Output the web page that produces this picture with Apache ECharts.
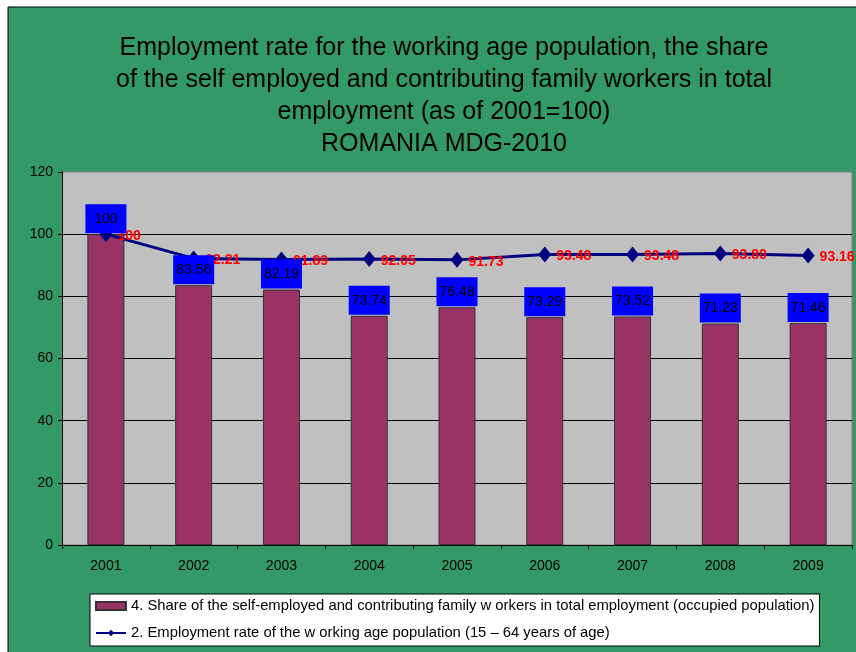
<!DOCTYPE html>
<html><head><meta charset="utf-8">
<script src="https://cdn.jsdelivr.net/npm/echarts@6/dist/echarts.min.js"></script>
<style>html,body{margin:0;padding:0;background:#fff;}#c{width:856px;height:652px;}</style>
</head><body><div id="c"></div>
<script>
var years = ['2001','2002','2003','2004','2005','2006','2007','2008','2009'];
var shareSelfEmployed = [100, 83.56, 82.19, 73.74, 76.48, 73.29, 73.52, 71.23, 71.46];
var employmentRate = [100, 92.21, 91.89, 92.05, 91.73, 93.48, 93.48, 93.80, 93.16];
var yTicks = [0, 20, 40, 60, 80, 100, 120];
var barName = '4. Share of the self-employed and contributing family w orkers in total employment (occupied population)';
var lineName = '2. Employment rate of the w orking age population (15 \u2013 64 years of age)';

function fmt(v){ return v === 100 ? '100' : v.toFixed(2); }
var FONT = 'Liberation Sans, Arial, sans-serif';
var chart = echarts.init(document.getElementById('c'));
chart.setOption({
  animation: false,
  graphic: [{ type: 'rect', z: -10, shape: { x: 8, y: 7, width: 900, height: 700 },
    style: { fill: '#339966', stroke: '#000', lineWidth: 1 } }],
  title: {
    text: 'Employment rate for the working age population, the share\nof the self employed and contributing family workers in total\nemployment (as of 2001=100)\nROMANIA MDG-2010',
    left: 439, top: 27, textAlign: 'center',
    textStyle: { fontFamily: FONT, fontSize: 25, fontWeight: 'normal', color: '#000', lineHeight: 32 }
  },
  legend: {
    orient: 'vertical', left: 90, top: 594,
    backgroundColor: '#fff', borderColor: '#000', borderWidth: 1,
    padding: [3, 5, 4, 5], itemGap: 9, itemWidth: 30, itemHeight: 8,
    textStyle: { fontFamily: FONT, fontSize: 14.8, color: '#000', lineHeight: 18 },
    data: [{ name: barName, icon: 'rect' }, { name: lineName }]
  },
  grid: { left: 62, right: 4, top: 172, bottom: 107, show: true, backgroundColor: '#C0C0C0', borderColor: '#808080', borderWidth: 1 },
  xAxis: {
    type: 'category', data: years,
    axisLine: { lineStyle: { color: '#000' } },
    axisTick: { show: true, lineStyle: { color: '#000' }, length: 4 },
    axisLabel: { fontFamily: FONT, fontSize: 14, color: '#000', margin: 14 }
  },
  yAxis: {
    type: 'value', min: yTicks[0], max: yTicks[yTicks.length - 1], interval: 20,
    axisLine: { show: true, lineStyle: { color: '#000' } },
    axisTick: { show: true, lineStyle: { color: '#000' }, length: 4 },
    axisLabel: { fontFamily: FONT, fontSize: 14, color: '#000', margin: 9 },
    splitLine: { showMaxLine: false, lineStyle: { color: '#000', width: 1 } }
  },
  series: [
    { name: barName, type: 'bar', data: shareSelfEmployed, barWidth: 37, z: 2,
      itemStyle: { color: '#993366', borderColor: '#333', borderWidth: 1 } },
    { name: lineName, type: 'line', data: employmentRate, z: 3,
      symbol: 'diamond', symbolSize: [13, 16],
      lineStyle: { color: '#000080', width: 3 }, itemStyle: { color: '#000080' },
      label: { show: true, position: 'right', distance: 5, offset: [0, 2],
        formatter: function(p){ return fmt(p.value); },
        fontFamily: FONT, fontSize: 14, fontWeight: 'bold', color: '#FF0000' } },
    { name: 'barLabels', type: 'scatter', data: shareSelfEmployed, z: 5, symbolSize: 0,
      silent: true, itemStyle: { opacity: 1 },
      label: { show: true, position: 'top', distance: 1,
        formatter: function(p){ return fmt(p.value); },
        fontFamily: FONT, fontSize: 14, color: '#000', backgroundColor: '#0000FF',
        padding: [8, 3, 7, 3], width: 35, align: 'center' } }
  ]
});
</script></body></html>
